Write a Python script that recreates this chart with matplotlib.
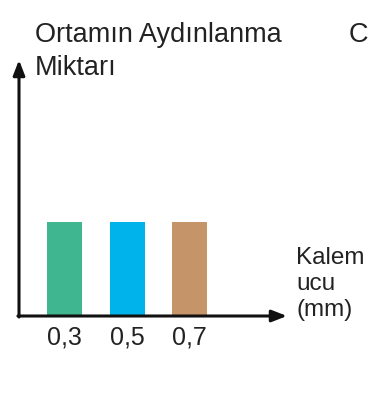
import matplotlib.pyplot as plt

# data
categories = ['0,3', '0,5', '0,7']
values = [1, 1, 1]
colors = ['#3fb68f', '#00b3ea', '#c59469']

plt.rcParams['font.family'] = ['Liberation Sans', 'DejaVu Sans']

W, H = 370, 393
fig = plt.figure(figsize=(W / 100, H / 100), dpi=100)

# axes origin at (19, 316) px, x arrow to 287, y arrow to 60
x0, y0, x1, y1 = 19, 316, 287, 60
ax = fig.add_axes([x0 / W, 1 - y0 / H, (x1 - x0) / W, (y0 - y1) / H])

step = 62.5  # px between bar centres
pos = list(range(len(categories)))
ax.bar(pos, values, width=35 / step, color=colors)
ax.set_xlim(-45.5 / step, -45.5 / step + (x1 - x0) / step)
ax.set_ylim(0, values[0] * (y0 - y1) / (y0 - 222))

for s in ax.spines.values():
    s.set_visible(False)
ax.set_yticks([])
ax.set_xticks(pos)
ax.set_xticklabels(categories, fontsize=18, color='#222222')
ax.tick_params(axis='x', length=0, pad=7)

arrow = dict(arrowstyle='-|>,head_length=0.9,head_width=0.35', color='#111111', lw=2.2, shrinkA=0, shrinkB=0)
ax.annotate('', xy=(1, 0), xytext=(-0.004, 0), xycoords='axes fraction', arrowprops=arrow)
ax.annotate('', xy=(0, 1), xytext=(0, -0.004), xycoords='axes fraction', arrowprops=arrow)

fig.text(35 / W, 1 - 42 / H, 'Ortamın Aydınlanma', fontsize=19.5, color='#222222', va='baseline')
fig.text(35 / W, 1 - 75 / H, 'Miktarı', fontsize=19.5, color='#222222', va='baseline')
fig.text(349 / W, 1 - 42 / H, 'C', fontsize=19.5, color='#222222', va='baseline')
fig.text(296 / W, 1 - 264 / H, 'Kalem', fontsize=17.5, color='#222222', va='baseline')
fig.text(296 / W, 1 - 290 / H, 'ucu', fontsize=17.5, color='#222222', va='baseline')
fig.text(296 / W, 1 - 316 / H, '(mm)', fontsize=17.5, color='#222222', va='baseline')

fig.savefig('out.png', dpi=100, facecolor='white')
